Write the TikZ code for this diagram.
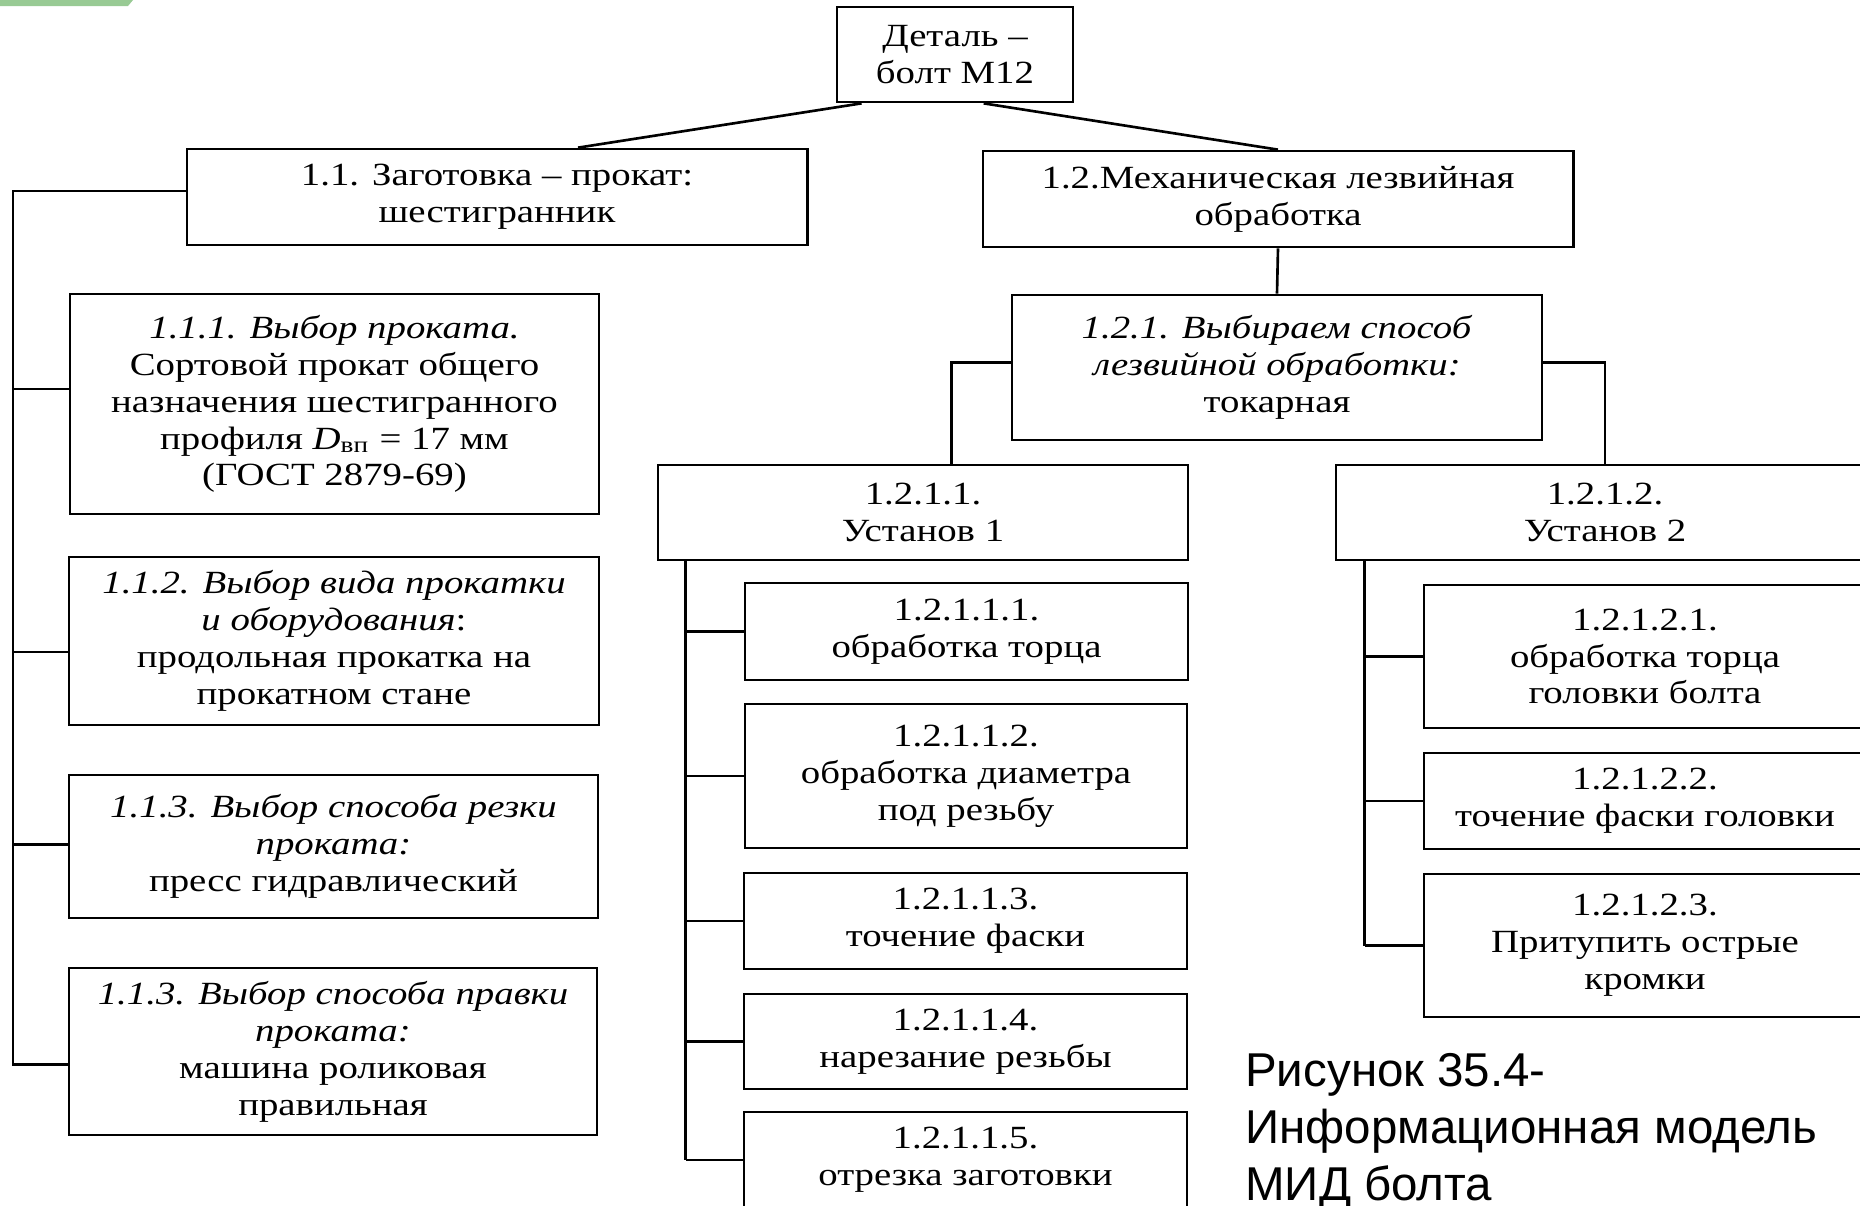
\documentclass[tikz,border=0pt]{standalone}
\usepackage{fontspec}
\setmainfont{Liberation Serif}[FakeStretch=1.2]
\newfontfamily\capfont{Liberation Sans}
\usetikzlibrary{calc}
\definecolor{tabgreen}{RGB}{152,202,148}

\begin{document}
\begin{tikzpicture}[x=0.01cm,y=-0.01cm,line width=0.75pt,
		every node/.style={font=\fontsize{9.2}{10.5}\selectfont},
		blk/.style={draw,line width=0.75pt,align=center,inner sep=0pt}]

  \useasboundingbox (0,0) rectangle (1860,1206);
  \fill[white] (0,0) rectangle (1860,1206);
  \fill[tabgreen] (0,0) -- (133,0) -- (128,6) -- (0,6) -- cycle;

  % top
  \node[blk,minimum width=2.36cm,minimum height=0.95cm] (top) at (955,54.5) {Деталь –\\болт М12};
  \node[blk,minimum width=6.20cm,minimum height=0.96cm] (b11) at (497,197) {1.1. Заготовка – прокат:\\шестигранник};
  \node[blk,minimum width=5.90cm,minimum height=0.96cm] (b12) at (1278,199) {1.2.Механическая лезвийная\\обработка};

  % left column
  \node[blk,minimum width=5.29cm,minimum height=2.20cm] (b111) at (334.5,404) {\textit{1.1.1. Выбор проката.}\\Сортовой прокат общего\\назначения шестигранного\\профиля \textit{D}\textsubscript{вп} = 17 мм\\(ГОСТ 2879-69)};
  \node[blk,minimum width=5.30cm,minimum height=1.68cm] (b112) at (334,641) {\textit{1.1.2. Выбор вида прокатки}\\\textit{и оборудования}:\\продольная прокатка на\\прокатном стане};
  \node[blk,minimum width=5.29cm,minimum height=1.43cm] (b113) at (333.5,846.5) {\textit{1.1.3. Выбор способа резки}\\\textit{проката:}\\пресс гидравлический};
  \node[blk,minimum width=5.28cm,minimum height=1.67cm] (b114) at (333,1051.5) {\textit{1.1.3. Выбор способа правки}\\\textit{проката:}\\машина роликовая\\правильная};

  % right part
  \node[blk,minimum width=5.30cm,minimum height=1.45cm] (b121) at (1277,367.5) {\textit{1.2.1. Выбираем способ}\\\textit{лезвийной обработки:}\\токарная};
  \node[blk,minimum width=5.30cm,minimum height=0.95cm] (b1211) at (923,512.5) {1.2.1.1.\\Установ 1};
  \node[blk,minimum width=5.38cm,minimum height=0.95cm] (b1212) at (1605,512.5) {1.2.1.2.\\Установ 2};

  \node[blk,minimum width=4.43cm,minimum height=0.97cm] (b12111) at (966.5,631.5) {1.2.1.1.1.\\обработка торца};
  \node[blk,minimum width=4.42cm,minimum height=1.44cm] (b12112) at (966,776) {1.2.1.1.2.\\обработка диаметра\\под резьбу};
  \node[blk,minimum width=4.43cm,minimum height=0.96cm] (b12113) at (965.5,921) {1.2.1.1.3.\\точение фаски};
  \node[blk,minimum width=4.43cm,minimum height=0.95cm] (b12114) at (965.5,1041.5) {1.2.1.1.4.\\нарезание резьбы};
  \node[blk,minimum width=4.43cm,minimum height=0.96cm] (b12115) at (965.5,1160) {1.2.1.1.5.\\отрезка заготовки};

  \node[blk,minimum width=4.42cm,minimum height=1.43cm] (b12121) at (1645,656.5) {1.2.1.2.1.\\обработка торца\\головки болта};
  \node[blk,minimum width=4.42cm,minimum height=0.96cm] (b12122) at (1645,801) {1.2.1.2.2.\\точение фаски головки};
  \node[blk,minimum width=4.42cm,minimum height=1.43cm] (b12123) at (1645,945.5) {1.2.1.2.3.\\Притупить острые\\кромки};

  \node[font=\capfont\fontsize{13.5}{16.2}\selectfont,anchor=base west,align=left,inner sep=0pt] (cap) at (1244,1200) {Рисунок 35.4-\\Информационная модель\\МИД болта};

  % connectors
  \draw ($(top.south west)+(26,0)$) -- ($(b11.north)+(81,0)$);
  \draw ($(top.south west)+(148,0)$) -- (b12.north);

  \coordinate (sp) at (13,0);
  \draw ($(b11.west)+(0,-6)$) -| ($(sp |- b114.west)+(0,13)$) -- ($(b114.west)+(0,13)$);
  \draw ($(sp |- b111.west)+(0,-15)$) -- ($(b111.west)+(0,-15)$);
  \draw ($(sp |- b112.west)+(0,11)$) -- ($(b112.west)+(0,11)$);
  \draw ($(sp |- b113.west)+(0,-2)$) -- ($(b113.west)+(0,-2)$);

  \draw (b12.south) -- (b121.north);
  \draw ($(b121.west)+(0,-5)$) -| ($(b1211.north west)+(295,0)$);
  \draw ($(b121.east)+(0,-5)$) -| (b1212.north);

  \coordinate (spa) at ($(b1211.south west)+(29,0)$);
  \draw (spa) -- (spa |- b12115.west);
  \draw (spa |- b12111.west) -- (b12111.west);
  \draw (spa |- b12112.west) -- (b12112.west);
  \draw (spa |- b12113.west) -- (b12113.west);
  \draw (spa |- b12114.west) -- (b12114.west);
  \draw (spa |- b12115.west) -- (b12115.west);

  \coordinate (spb) at ($(b1212.south west)+(30,0)$);
  \draw (spb) -- (spb |- b12123.west);
  \draw (spb |- b12121.west) -- (b12121.west);
  \draw (spb |- b12122.west) -- (b12122.west);
  \draw (spb |- b12123.west) -- (b12123.west);
%  \draw (b114.south) -- ++(0,40);

\end{tikzpicture}
\end{document}
